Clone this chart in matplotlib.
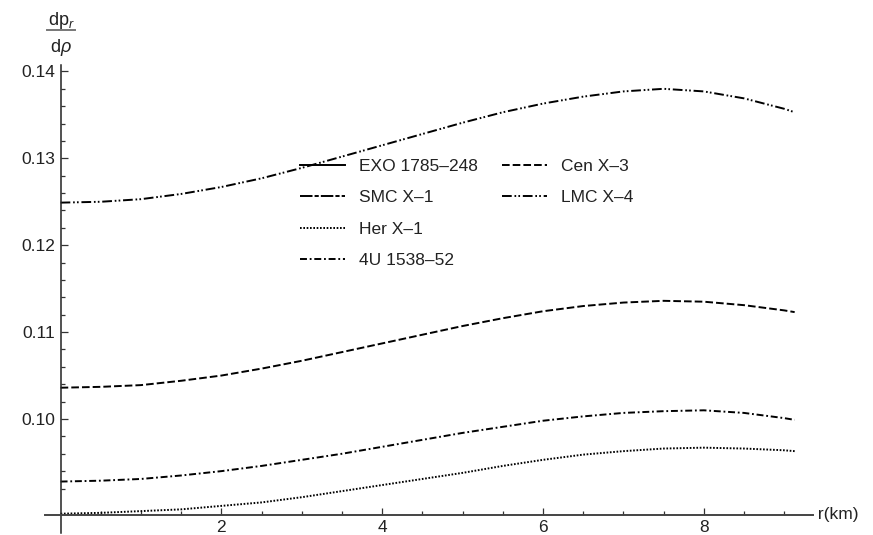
import matplotlib
matplotlib.use("Agg")
import matplotlib.pyplot as plt
from matplotlib.lines import Line2D
from matplotlib.ticker import FixedLocator, FormatStrFormatter

plt.rcParams['font.family'] = ['Liberation Sans', 'DejaVu Sans']
plt.rcParams['mathtext.fontset'] = 'custom'
plt.rcParams['mathtext.rm'] = 'Liberation Sans'
plt.rcParams['mathtext.it'] = 'Liberation Sans:italic'
plt.rcParams['lines.scale_dashes'] = False

# radial coordinate (km)
r_km = [0, 0.5, 1, 1.5, 2, 2.5, 3, 3.5, 4, 4.5, 5, 5.5, 6, 6.5, 7, 7.5, 8, 8.5, 9, 9.13]

# dp_r/drho for each star
lmc_x4 = [0.1249, 0.1250, 0.1253, 0.1259, 0.1267, 0.1277, 0.1289, 0.1302, 0.1315, 0.1328,
          0.1341, 0.1353, 0.1363, 0.1371, 0.1377, 0.1380, 0.1377, 0.1369, 0.1357, 0.1353]
cen_x3 = [0.1036, 0.1037, 0.1039, 0.1044, 0.1050, 0.1058, 0.1067, 0.1077, 0.1087, 0.1097,
          0.1107, 0.1116, 0.1124, 0.1130, 0.1134, 0.1136, 0.1135, 0.1131, 0.1125, 0.1123]
u1538 = [0.0928, 0.0929, 0.0931, 0.0935, 0.0940, 0.0946, 0.0953, 0.0960, 0.0968, 0.0976,
         0.0984, 0.0991, 0.0998, 0.1003, 0.1007, 0.1009, 0.1010, 0.1007, 0.1001, 0.0999]
her_x1 = [0.0891, 0.0892, 0.0894, 0.0896, 0.0900, 0.0904, 0.0910, 0.0917, 0.0924, 0.0931,
          0.0938, 0.0946, 0.0953, 0.0959, 0.0963, 0.0966, 0.0967, 0.0966, 0.0964, 0.0963]

y_major = [0.10, 0.11, 0.12, 0.13, 0.14]
x_major = [2, 4, 6, 8]

styles = {
    'EXO 1785\u2013248': '-',
    'SMC X\u20131': (0, (9, 1.5, 3, 1.5)),
    'Her X\u20131': (0, (1.2, 1.2)),
    '4U 1538\u201352': (0, (5, 2, 1.3, 2)),
    'Cen X\u20133': (0, (5.5, 2.2)),
    'LMC X\u20134': (0, (7, 2, 1.2, 1.6, 1.2, 2)),
}

W, H = 873, 535
fig = plt.figure(figsize=(W / 100, H / 100), dpi=100)
ax = fig.add_axes([45 / W, 2 / H, (813 - 45) / W, (533 - 65) / H])

lw = 1.4
ax.plot(r_km, lmc_x4, color='black', lw=lw, linestyle=styles['LMC X\u20134'])
ax.plot(r_km, cen_x3, color='black', lw=lw, linestyle=styles['Cen X\u20133'])
ax.plot(r_km, u1538, color='black', lw=lw, linestyle=styles['4U 1538\u201352'])
ax.plot(r_km, her_x1, color='black', lw=lw, linestyle=styles['Her X\u20131'])

ax.set_xlim(-0.194, 9.358)
ax.set_ylim(0.08688, 0.14074)

for s in ['top', 'right']:
    ax.spines[s].set_visible(False)
ax.spines['left'].set_position(('data', 0))
ax.spines['bottom'].set_position(('data', 0.089))
ax.spines['left'].set_color('#222222')
ax.spines['left'].set_linewidth(1.1)
ax.spines['bottom'].set_color('#444444')
ax.spines['bottom'].set_linewidth(1.4)

ax.xaxis.set_major_locator(FixedLocator(x_major))
ax.xaxis.set_minor_locator(FixedLocator([v * 0.5 for v in range(1, 19) if v % 4 != 0]))
ax.yaxis.set_major_locator(FixedLocator(y_major))
ax.yaxis.set_minor_locator(FixedLocator([0.09 + 0.002 * i for i in range(26) if i % 5 != 0]))
ax.yaxis.set_major_formatter(FormatStrFormatter('%.2f'))

ax.tick_params(which='both', direction='in', colors='#333333', labelcolor='#222222',
               labelsize=12.5, width=0.9)
ax.tick_params(which='major', length=4.8)
ax.tick_params(which='minor', length=2.6)
ax.tick_params(axis='y', pad=4)
ax.tick_params(axis='x', pad=4)

# axis labels at the ends of the axes
ax.text(1.0, 0.089, ' r(km)', transform=ax.get_yaxis_transform(), ha='left',
        va='center', fontsize=12.5, color='#222222', clip_on=False)
fig.text(61 / W, 1 - 25 / H, r'dp$_{r}$', ha='center', va='baseline',
         fontsize=13, color='#222222')
fig.text(61 / W, 1 - 52 / H, r'd$\rho$', ha='center', va='baseline',
         fontsize=13, color='#222222')
fig.add_artist(Line2D([47 / W, 75 / W], [1 - 30 / H, 1 - 30 / H], color='#777777',
                      lw=1.4, transform=fig.transFigure))


def handles(names):
    return [Line2D([], [], color='black', lw=lw, linestyle=styles[n]) for n in names]


col1 = ['EXO 1785\u2013248', 'SMC X\u20131', 'Her X\u20131', '4U 1538\u201352']
col2 = ['Cen X\u20133', 'LMC X\u20134']
common = dict(frameon=False, fontsize=12.5, handlelength=2.6, handletextpad=0.8,
              labelspacing=0.93, borderpad=0, borderaxespad=0, loc='upper left',
              bbox_transform=fig.transFigure, labelcolor='#222222')
leg1 = ax.legend(handles(col1), col1, bbox_to_anchor=(300 / W, 1 - 159 / H), **common)
ax.add_artist(leg1)
ax.legend(handles(col2), col2, bbox_to_anchor=(502 / W, 1 - 159 / H), **common)

fig.savefig('out.png', dpi=100)
